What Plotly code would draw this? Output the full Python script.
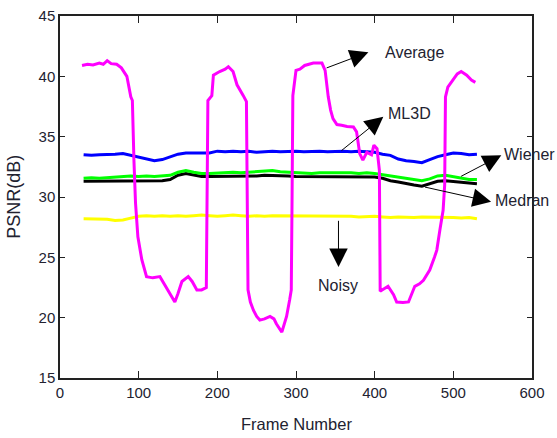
import plotly.graph_objects as go

# ---- data ----
frames = [30, 40, 50, 60, 70, 80, 90, 100, 110, 120, 130, 140, 150, 160, 170, 180, 190, 200,
          210, 220, 230, 240, 250, 260, 270, 280, 290, 300, 310, 320, 330, 340, 350, 360, 370,
          380, 390, 400, 410, 420, 430, 440, 450, 460, 470, 480, 490, 500, 510, 520, 530]

ml3d = [33.5, 33.45, 33.5, 33.5, 33.55, 33.6, 33.45, 33.3, 33.15, 33.0, 33.1, 33.3, 33.55, 33.65,
        33.65, 33.7, 33.65, 33.8, 33.75, 33.8, 33.75, 33.8, 33.7, 33.75, 33.8, 33.75, 33.8, 33.8,
        33.75, 33.8, 33.8, 33.75, 33.8, 33.8, 33.75, 33.8, 33.75, 33.7, 33.55, 33.45, 33.15, 33.0,
        32.95, 32.85, 33.1, 33.35, 33.5, 33.65, 33.6, 33.5, 33.55]

wiener = [31.55, 31.6, 31.55, 31.6, 31.7, 31.75, 31.75, 31.7, 31.75, 31.7, 31.75, 31.8, 32.05, 32.2,
          32.05, 31.95, 31.95, 32.0, 32.0, 32.05, 32.0, 32.05, 32.1, 32.15, 32.2, 32.1, 32.05, 32.0,
          32.0, 31.95, 32.0, 32.0, 32.05, 32.0, 32.0, 31.95, 32.0, 31.95, 31.85, 31.75, 31.65, 31.5,
          31.4, 31.35, 31.5, 31.75, 31.8, 31.7, 31.6, 31.45, 31.45]

median = [31.3, 31.3, 31.3, 31.3, 31.35, 31.35, 31.35, 31.35, 31.35, 31.3, 31.35, 31.45, 31.8, 31.95,
          31.8, 31.7, 31.7, 31.7, 31.7, 31.75, 31.7, 31.75, 31.75, 31.8, 31.8, 31.8, 31.75, 31.7,
          31.7, 31.65, 31.7, 31.7, 31.7, 31.7, 31.65, 31.65, 31.7, 31.65, 31.55, 31.35, 31.25, 31.1,
          31.0, 30.9, 31.1, 31.3, 31.35, 31.3, 31.2, 31.15, 31.1]

noisy = [28.2, 28.2, 28.2, 28.15, 28.05, 28.1, 28.25, 28.4, 28.45, 28.4, 28.45, 28.4, 28.45, 28.4,
         28.45, 28.5, 28.45, 28.4, 28.45, 28.5, 28.45, 28.4, 28.45, 28.4, 28.45, 28.45, 28.4, 28.45,
         28.4, 28.45, 28.4, 28.45, 28.4, 28.45, 28.4, 28.35, 28.4, 28.4, 28.35, 28.3, 28.35, 28.3,
         28.3, 28.35, 28.35, 28.3, 28.35, 28.3, 28.25, 28.3, 28.2]

avg_frames = [28, 35, 42, 50, 55, 60, 65, 72, 78, 85, 90, 92, 94, 96, 99, 104, 110, 118, 127, 133,
              140, 146, 150, 155, 163, 168, 174, 180, 186, 187, 188, 193, 195, 203, 210, 214, 220,
              225, 230, 233, 237, 238, 239, 242, 246, 250, 254, 260, 267, 272, 275, 282, 288, 292,
              294, 295, 296, 300, 305, 311, 316, 322, 333, 337, 341, 344, 347, 352, 358, 365, 373,
              377, 381, 385, 390, 396, 399, 403, 406, 407, 412, 417, 424, 428, 436, 443, 451, 457,
              462, 470, 476, 479, 483, 487, 489, 490, 493, 500, 505, 510, 517, 523, 528]
average = [40.9, 41.0, 40.95, 41.1, 41.0, 41.3, 41.05, 41.0, 40.7, 40.0, 38.3, 38.0, 33.0, 29.5,
           26.7, 24.8, 23.4, 23.3, 23.4, 22.7, 22.0, 21.3, 22.0, 23.0, 23.4, 23.0, 22.3, 22.3, 22.5,
           30.0, 38.0, 38.4, 40.1, 40.4, 40.6, 40.8, 40.4, 39.3, 38.8, 38.4, 37.9, 30.0, 22.3, 21.3,
           20.6, 20.1, 19.8, 19.9, 20.1, 19.9, 19.5, 18.8, 20.1, 21.5, 22.3, 30.0, 38.4, 40.5, 40.6,
           40.9, 41.0, 41.1, 41.1, 40.5, 38.3, 37.2, 36.5, 36.0, 35.95, 35.85, 35.8, 35.4, 33.6,
           33.05, 33.7, 33.5, 34.3, 34.0, 32.2, 22.2, 22.4, 22.6, 21.9, 21.3, 21.25, 21.3, 22.6,
           22.8, 23.1, 23.95, 25.0, 25.6, 27.3, 28.9, 31.0, 38.3, 39.1, 39.8, 40.2, 40.4, 40.1,
           39.7, 39.5]

x_ticks = [0, 100, 200, 300, 400, 500, 600]
y_ticks = [15, 20, 25, 30, 35, 40, 45]

# label annotations: (text, text_x, text_y, tip_x, tip_y, tail_x, tail_y)
labels = [
    ("Average", 410, 42.0, 392, 42.0, 337, 40.65),
    ("ML3D", 415, 36.9, 411, 36.65, 356, 33.75),
    ("Wiener", 562, 33.55, 561, 33.45, 508, 31.65),
    ("Medran", 550, 29.7, 548, 29.6, 462, 30.85),
]
noisy_label = ("Noisy", 354, 22.7, 354, 24.2, 354, 28.15)

FONT = "Liberation Sans, Arial, sans-serif"
INK = "#222230"

fig = go.Figure()
for yv, col in [(noisy, "#ffff00"), (median, "#000000"), (wiener, "#00ff00"), (ml3d, "#0000ff")]:
    fig.add_trace(go.Scatter(x=frames, y=yv, mode="lines",
                             line=dict(color=col, width=3), showlegend=False))
fig.add_trace(go.Scatter(x=avg_frames, y=average, mode="lines",
                         line=dict(color="#ff00ff", width=3), showlegend=False))

ARROW = dict(xref="x", yref="y", axref="x", ayref="y", text="", showarrow=True,
             arrowhead=2, arrowsize=3.7, arrowwidth=1, arrowcolor="#000000")

for text, tx, ty, hx, hy, sx, sy in labels:
    fig.add_annotation(x=hx, y=hy, ax=sx, ay=sy, **ARROW)
    fig.add_annotation(x=tx, y=ty, xref="x", yref="y", text=text, showarrow=False,
                       xanchor="left", yanchor="middle",
                       font=dict(family=FONT, size=16, color=INK))

t, tx, ty, hx, hy, sx, sy = noisy_label
fig.add_annotation(x=hx, y=hy, ax=sx, ay=sy, **ARROW)
fig.add_annotation(x=tx, y=ty, xref="x", yref="y", text=t, showarrow=False,
                   xanchor="center", yanchor="middle",
                   font=dict(family=FONT, size=16, color=INK))

# axis titles
fig.add_annotation(x=0.5, y=-0.127, xref="paper", yref="paper", text="Frame Number",
                   showarrow=False, xanchor="center", yanchor="middle",
                   font=dict(family=FONT, size=16.5, color=INK))
fig.add_annotation(x=-0.098, y=0.5, xref="paper", yref="paper", text="PSNR(dB)",
                   showarrow=False, xanchor="center", yanchor="middle", textangle=-90,
                   font=dict(family=FONT, size=18, color=INK))

axis_common = dict(showline=True, linecolor="#222222", linewidth=1.5, mirror="ticks",
                   ticks="inside", tickcolor="#222222", showgrid=False, zeroline=False,
                   automargin=False, tickfont=dict(family=FONT, size=15, color=INK))

fig.update_xaxes(range=[0, 600], tickvals=x_ticks, ticktext=[str(v) for v in x_ticks],
                 ticklen=7, tickwidth=1.2, **axis_common)
fig.update_yaxes(range=[15, 45], tickvals=y_ticks, ticktext=[str(v) for v in y_ticks],
                 ticklen=5, tickwidth=1.2, **axis_common)

fig.update_layout(width=557, height=438, margin=dict(l=60, r=25, t=16, b=60),
                  paper_bgcolor="white", plot_bgcolor="white", showlegend=False)

# remove the browser's default 8px body margin so the figure fills the window
fig.write_html("out.html", config={"displayModeBar": False},
               post_script="document.body.style.margin='0px';"
                           "document.body.style.overflow='hidden';")
